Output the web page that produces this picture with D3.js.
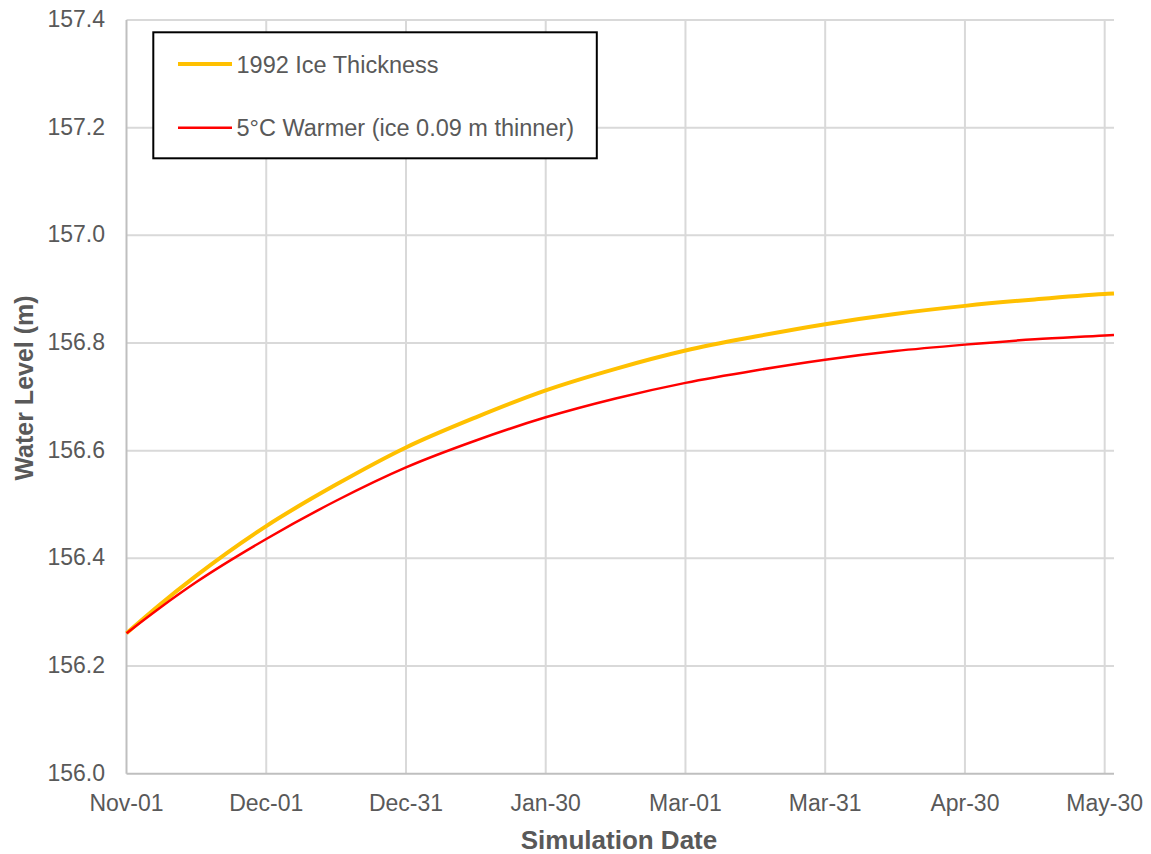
<!DOCTYPE html>
<html>
<head>
<meta charset="utf-8">
<script src="https://cdn.jsdelivr.net/npm/d3@7"></script>
<style>
  html, body { margin: 0; padding: 0; background: #fff; }
  svg { display: block; font-family: "Liberation Sans", Arial, sans-serif; }
</style>
</head>
<body>
<svg id="chart" width="1151" height="854"></svg>
<script>
// Days after Nov-01 (1992)
const days = [0, 7, 15, 30, 45, 60, 75, 90, 105, 120, 135, 150, 165, 180, 195, 210, 212];
const iceThickness1992 = [156.261, 156.313, 156.368, 156.460, 156.537, 156.606, 156.662, 156.712, 156.752, 156.786, 156.812, 156.835, 156.854, 156.869, 156.881, 156.891, 156.892];
const warmer5C = [156.261, 156.307, 156.356, 156.436, 156.507, 156.569, 156.619, 156.662, 156.697, 156.726, 156.749, 156.769, 156.785, 156.797, 156.807, 156.814, 156.815];
const xTickDays = [0, 30, 60, 90, 120, 150, 180, 210];
const xTickLabels = ["Nov-01", "Dec-01", "Dec-31", "Jan-30", "Mar-01", "Mar-31", "Apr-30", "May-30"];
const yTicks = [156.0, 156.2, 156.4, 156.6, 156.8, 157.0, 157.2, 157.4];
const seriesNames = ["1992 Ice Thickness", "5°C Warmer (ice 0.09 m thinner)"];

(function () {
const svg = d3.select("#chart");
const pLeft = 126.5, pRight = 1114, pTop = 20, pBottom = 773.7;

const x = d3.scaleLinear().domain([0, 212]).range([pLeft, pRight]);
const y = d3.scaleLinear().domain([156.0, 157.4]).range([pBottom, pTop]);

const grid = svg.append("g");
grid.selectAll("line.h").data(yTicks.filter(v => v > 156.0)).join("line")
  .attr("x1", pLeft).attr("x2", pRight)
  .attr("y1", d => y(d)).attr("y2", d => y(d))
  .attr("stroke", "#d9d9d9").attr("stroke-width", 2);
grid.selectAll("line.v").data(xTickDays.filter(d => d > 0)).join("line")
  .attr("x1", d => x(d)).attr("x2", d => x(d))
  .attr("y1", pTop).attr("y2", pBottom)
  .attr("stroke", "#d9d9d9").attr("stroke-width", 2);

svg.append("line").attr("x1", pLeft).attr("x2", pLeft).attr("y1", pTop).attr("y2", pBottom)
  .attr("stroke", "#bfbfbf").attr("stroke-width", 2);
svg.append("line").attr("x1", pLeft).attr("x2", pRight).attr("y1", pBottom).attr("y2", pBottom)
  .attr("stroke", "#bfbfbf").attr("stroke-width", 2);

svg.append("g").selectAll("text").data(yTicks).join("text")
  .attr("x", 105).attr("y", d => y(d) + 7)
  .attr("text-anchor", "end")
  .attr("font-size", 23).attr("fill", "#595959")
  .text(d => d.toFixed(1));

svg.append("g").selectAll("text").data(xTickDays).join("text")
  .attr("x", d => x(d)).attr("y", 811)
  .attr("text-anchor", "middle")
  .attr("font-size", 23).attr("fill", "#595959")
  .text((d, i) => xTickLabels[i]);

svg.append("text").attr("x", 619).attr("y", 849)
  .attr("text-anchor", "middle").attr("font-size", 26).attr("font-weight", "bold")
  .attr("fill", "#595959").text("Simulation Date");
svg.append("text").attr("transform", "translate(33,388) rotate(-90)")
  .attr("text-anchor", "middle").attr("font-size", 25).attr("font-weight", "bold")
  .attr("fill", "#595959").text("Water Level (m)");

const line = vals => d3.line()
  .x((d, i) => x(days[i]))
  .y(d => y(d))
  .curve(d3.curveMonotoneX)(vals);

svg.append("path").attr("d", line(iceThickness1992))
  .attr("fill", "none").attr("stroke", "#FFC000").attr("stroke-width", 4);
svg.append("path").attr("d", line(warmer5C))
  .attr("fill", "none").attr("stroke", "#FF0000").attr("stroke-width", 2.5);

const lg = svg.append("g");
lg.append("rect").attr("x", 153.3).attr("y", 32.3).attr("width", 443.5).attr("height", 126)
  .attr("fill", "#fff").attr("stroke", "#000").attr("stroke-width", 2);
const legendItems = [
  { name: seriesNames[0], color: "#FFC000", w: 4, cy: 64 },
  { name: seriesNames[1], color: "#FF0000", w: 2.5, cy: 127.7 }
];
legendItems.forEach(it => {
  lg.append("line").attr("x1", 178).attr("x2", 232).attr("y1", it.cy).attr("y2", it.cy)
    .attr("stroke", it.color).attr("stroke-width", it.w);
  lg.append("text").attr("x", 236.5).attr("y", it.cy + 8.5)
    .attr("font-size", 23.5).attr("fill", "#595959").text(it.name);
});
})();
</script>
</body>
</html>
